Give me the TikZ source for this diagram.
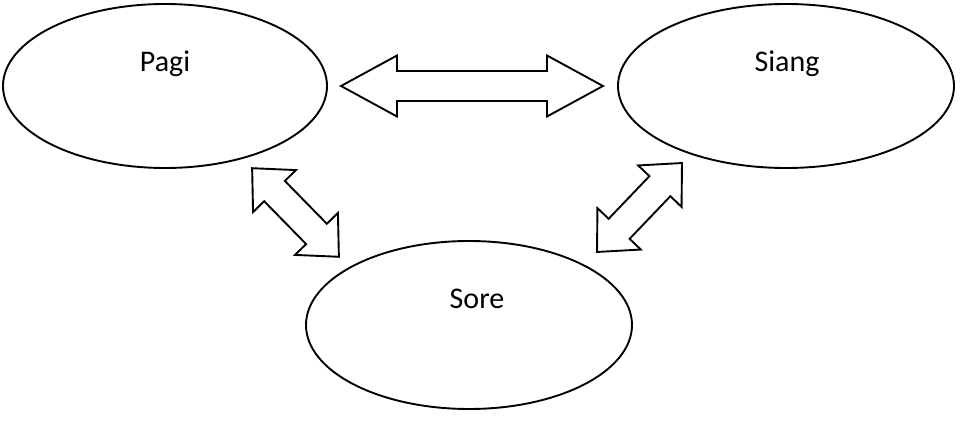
\documentclass[tikz,border=0pt]{standalone}
\usepackage{fontspec}
\setmainfont{Carlito}
\usetikzlibrary{shapes.geometric}

% Double-headed block arrow, drawn in its own rotated frame.
% #1 scope options, #2 half length, #3 head length, #4 head half width, #5 shaft half width
\newcommand{\dblblock}[5]{%
  \begin{scope}[#1]
    \draw[blockline] (-#2,0) -- ({-#2+#3},#4) -- ({-#2+#3},#5) -- ({#2-#3},#5)
      -- ({#2-#3},#4) -- (#2,0) -- ({#2-#3},-#4) -- ({#2-#3},-#5)
      -- ({-#2+#3},-#5) -- ({-#2+#3},-#4) -- cycle;
  \end{scope}}

\begin{document}
\begin{tikzpicture}[x=1pt,y=1pt,
  phase/.style={ellipse, draw=black, line width=1.9pt, fill=white, inner sep=0pt},
  lbl/.style={font=\fontsize{30}{36}\selectfont, inner sep=0pt, anchor=base},
  blockline/.style={draw=black, line width=1.9pt, fill=white, line join=miter}]
  \useasboundingbox (0,0) rectangle (964,421);

  % the three times of day
  \node[phase, minimum width=324pt, minimum height=164pt] (pagi)  at (165,335) {};
  \node[phase, minimum width=336pt, minimum height=164pt] (siang) at (786,335) {};
  \node[phase, minimum width=326pt, minimum height=168pt] (sore)  at (469,96)  {};

  \node[lbl] (pagiT)  at ([yshift=14pt]pagi.center)  {Pagi};
  \node[lbl] (siangT) at ([xshift=1pt,yshift=14pt]siang.center) {Siang};
  \node[lbl] (soreT)  at ([xshift=8pt,yshift=17pt]sore.center)  {Sore};

  % two-way block arrows between them
  \dblblock{shift={(472,335)}}{131}{56}{30.5}{15}
  \dblblock{shift={(295.5,208.5)}, rotate=-45.6}{62}{32}{30}{14.5}
  \dblblock{shift={(639.5,213.5)}, rotate=46.3}{61.5}{32}{30}{14.5}
\end{tikzpicture}
\end{document}
